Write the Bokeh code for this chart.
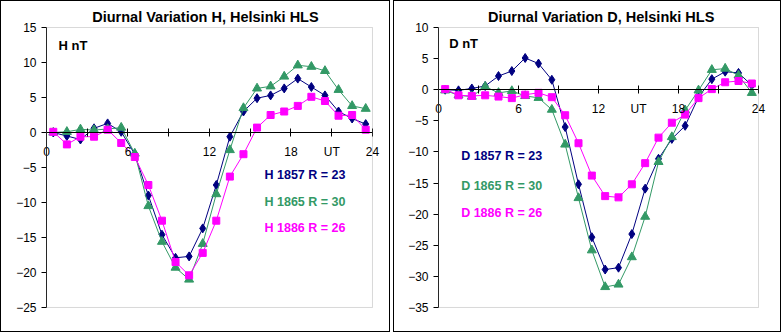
from bokeh.plotting import figure
from bokeh.models import Range1d, FixedTicker, Label, BoxAnnotation
from bokeh.layouts import row
from bokeh.embed import file_html
from bokeh.resources import INLINE

hours = [0.5, 1.5, 2.5, 3.5, 4.5, 5.5, 6.5, 7.5, 8.5, 9.5, 10.5, 11.5,
         12.5, 13.5, 14.5, 15.5, 16.5, 17.5, 18.5, 19.5, 20.5, 21.5, 22.5, 23.5]

H_1857 = [0.0, -0.5, -1.0, 0.6, 1.3, 0.1, -3.1, -9.0, -14.6, -17.9, -17.7, -13.7,
          -7.5, -0.6, 3.0, 4.9, 5.3, 6.3, 7.7, 6.5, 5.3, 3.0, 2.0, 1.2]
H_1865 = [0.0, 0.1, 0.45, 0.35, 0.5, 0.7, -3.0, -10.5, -15.6, -19.3, -21.0, -15.9,
          -8.8, -2.5, 3.5, 6.3, 6.6, 8.0, 9.6, 9.4, 8.8, 6.1, 3.8, 3.4]
H_1886 = [0.1, -1.7, -0.6, -0.6, 0.4, -1.5, -3.5, -7.5, -12.6, -18.5, -20.4, -17.2,
          -12.6, -6.3, -3.1, 0.7, 2.5, 3.0, 3.8, 5.1, 4.5, 2.4, 2.5, 0.4]

D_1857 = [0.0, -0.1, 0.2, 0.6, 2.2, 3.0, 5.1, 4.2, 1.6, -6.0, -15.2, -23.7,
          -28.9, -28.6, -23.2, -15.9, -11.1, -7.9, -5.8, -1.2, 1.7, 2.9, 2.7, 0.7]
D_1865 = [-0.1, -0.9, -1.1, 0.5, -0.5, -0.2, -1.0, -1.3, -3.2, -8.8, -17.4, -25.8,
          -31.7, -31.3, -26.9, -20.4, -11.6, -7.6, -3.3, -0.1, 3.2, 3.4, 2.3, -0.5]
D_1886 = [0.1, -0.9, -1.0, -0.9, -1.1, -1.35, -0.8, -0.5, -1.2, -4.1, -8.6, -13.8,
          -17.1, -17.3, -15.2, -11.8, -7.7, -5.3, -4.0, -1.35, 0.1, 1.2, 1.4, 1.0]

x_ticks = [0, 3, 6, 9, 12, 15, 18, 21, 24]
H_xlabels = ["0", "", "6", "", "12", "", "18", "UT", "24"]
D_xlabels = ["0", "", "6", "", "12", "UT", "18", "", "24"]

H_title = "Diurnal Variation H, Helsinki HLS"
D_title = "Diurnal Variation D, Helsinki HLS"
H_legend = ["H 1857 R = 23", "H 1865 R = 30", "H 1886 R = 26"]
D_legend = ["D 1857 R = 23", "D 1865 R = 30", "D 1886 R = 26"]

NAVY = "#000080"
GREEN = "#339966"
MAGENTA = "#FF00FF"
FONT = "Liberation Sans"


def make_panel(title, title_x, unit_label, series, legend, xlabels, yr, ystep,
               width, xr, yview, unit_pos, legend_pos):
    # The view ranges extend a little beyond the plot area so that the in-frame
    # axes (crossing at 0) and the edge tick labels are not clipped.
    p = figure(width=width, height=332, output_backend="svg", toolbar_location=None,
               x_range=Range1d(*xr), y_range=Range1d(*yview),
               min_border_left=8, min_border_right=8,
               min_border_top=4, min_border_bottom=4,
               styles={"border": "1px solid black"})
    p.outline_line_color = None
    p.xgrid.visible = False
    p.ygrid.visible = False

    # gray plot-area border
    p.add_layout(BoxAnnotation(left=0, right=24, bottom=yr[0], top=yr[1],
                               fill_alpha=0, line_color="#808080", line_width=1))

    xa = p.xaxis[0]
    xa.fixed_location = 0
    xa.bounds = (0, 24)
    xa.ticker = FixedTicker(ticks=x_ticks)
    xa.major_label_overrides = {t: l for t, l in zip(x_ticks, xlabels)}
    xa.major_tick_in = 4
    xa.major_tick_out = 4
    xa.minor_tick_in = 0
    xa.minor_tick_out = 0
    xa.axis_line_color = "black"
    xa.major_tick_line_color = "black"
    xa.major_label_text_font = FONT
    xa.major_label_text_font_size = "12px"
    xa.major_label_text_color = "black"
    xa.major_label_standoff = 8

    ya = p.yaxis[0]
    ya.fixed_location = 0
    ya.bounds = yr
    ya.ticker = FixedTicker(ticks=list(range(yr[0], yr[1] + 1, ystep)))
    ya.major_tick_in = 0
    ya.major_tick_out = 5
    ya.minor_tick_in = 0
    ya.minor_tick_out = 0
    ya.axis_line_color = "black"
    ya.major_tick_line_color = "black"
    ya.major_label_text_font = FONT
    ya.major_label_text_font_size = "12px"
    ya.major_label_text_color = "black"
    ya.major_label_standoff = 5

    colors = [NAVY, GREEN, MAGENTA]
    markers = ["diamond", "triangle", "square"]
    sizes = [9, 9, 7]
    for vals, c, m, s in zip(series, colors, markers, sizes):
        p.line(hours, vals, line_color=c, line_width=1)
        p.scatter(hours, vals, marker=m, size=s, fill_color=c, line_color=c)

    p.add_layout(Label(x=title_x, y=yr[1], y_offset=11, text=title, text_font=FONT,
                       text_font_size="14.5px", text_font_style="bold",
                       text_color="black", text_align="center", text_baseline="middle"))
    p.add_layout(Label(x=unit_pos[0], y=unit_pos[1], text=unit_label,
                       text_font=FONT, text_font_size="13px", text_font_style="bold",
                       text_color="black", text_baseline="middle"))
    for txt, c, (lx, ly) in zip(legend, colors, legend_pos):
        p.add_layout(Label(x=lx, y=ly, text=txt, text_font=FONT, text_font_size="12.5px",
                           text_font_style="bold", text_color=c, text_baseline="middle"))
    return p


pH = make_panel(H_title, 11.7, "H nT",
                [H_1857, H_1865, H_1886], H_legend, H_xlabels, (-25, 15), 5,
                390, (-2.724, 24.81), (-28.143, 18.143), (0.88, 12.5),
                [(16.05, -6.1), (16.05, -9.9), (16.05, -13.7)])
pD = make_panel(D_title, 12.2, "D nT",
                [D_1857, D_1865, D_1886], D_legend, D_xlabels, (-35, 10), 5,
                388, (-2.7, 25.2), (-38.536, 13.536), (0.8, 7.4),
                [(1.7, -10.7), (1.7, -15.4), (1.7, -19.8)])

layout = row(pH, pD, spacing=3)
open("out.html", "w").write(file_html(layout, INLINE))
